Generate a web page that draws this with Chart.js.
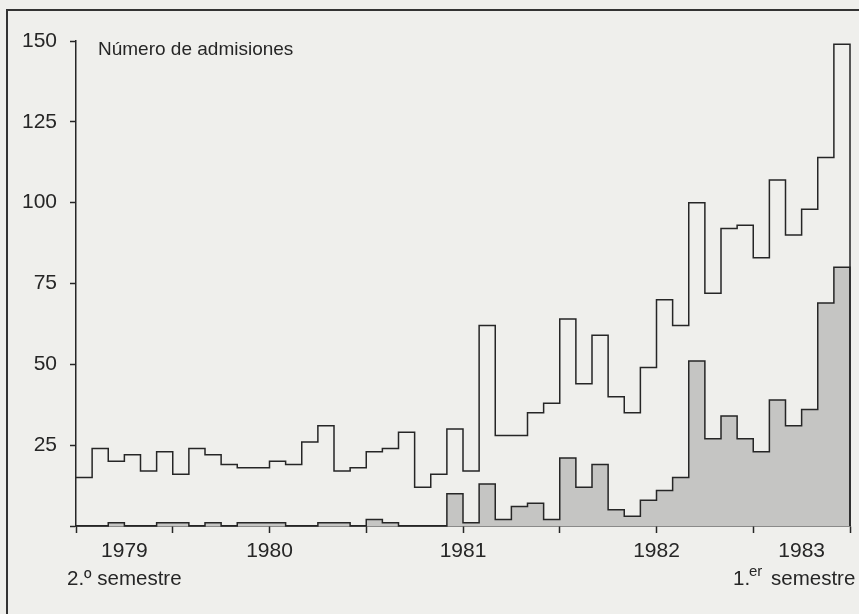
<!DOCTYPE html>
<html>
<head>
<meta charset="utf-8">
<script src="https://cdn.jsdelivr.net/npm/chart.js@4.4.1/dist/chart.umd.min.js"></script>
<style>
  body { margin: 0; background: #efefec; }
  #wrap { width: 859px; height: 614px; position: relative; }
</style>
</head>
<body>
<div id="wrap"><canvas id="admisiones"></canvas></div>
<script>
// one value per month, July 1979 .. June 1983
const totalAdmisiones = [15, 24, 20, 22, 17, 23, 16, 24, 22, 19,
    18, 18, 20, 19, 26, 31, 17, 18, 23, 24,
    29, 12, 16, 30, 17, 62, 28, 28, 35, 38,
    64, 44, 59, 40, 35, 49, 70, 62, 100, 72,
    92, 93, 83, 107, 90, 98, 114, 149];
const admisionesSombra = [0, 0, 1, 0, 0, 1, 1, 0, 1, 0,
    1, 1, 1, 0, 0, 1, 1, 0, 2, 1,
    0, 0, 0, 10, 1, 13, 2, 6, 7, 2,
    21, 12, 19, 5, 3, 8, 11, 15, 51, 27,
    34, 27, 23, 39, 31, 36, 69, 80];
// tick positions in months from July 1979, year labels at the middle of each year
const xTickMonths = [0, 3, 6, 12, 18, 24, 30, 36, 42, 45, 48];
const yearLabels = { 3: '1979', 12: '1980', 24: '1981', 36: '1982', 45: '1983' };
const yTickValues = [0, 25, 50, 75, 100, 125, 150];

const ink = '#262626';
const font = 'Liberation Sans';

function stepPoints(values) {
    const pts = values.map((v, i) => ({ x: i, y: v }));
    pts.push({ x: values.length, y: 0 });
    return pts;
}

const extraText = {
    id: 'extraText',
    afterDraw(chart) {
        const ctx = chart.ctx;
        ctx.save();
        // frame
        ctx.strokeStyle = '#333';
        ctx.lineWidth = 2;
        ctx.beginPath();
        ctx.moveTo(7, 614);
        ctx.lineTo(7, 10);
        ctx.lineTo(859, 10);
        ctx.stroke();

        ctx.fillStyle = ink;
        ctx.textBaseline = 'alphabetic';
        ctx.textAlign = 'left';
        ctx.font = '19px "' + font + '"';
        ctx.fillText('Número de admisiones', 98, 55);

        ctx.font = '20.5px "' + font + '"';
        ctx.fillText('2.º semestre', 67, 585);

        ctx.fillText('1.', 733, 585);
        ctx.font = '15px "' + font + '"';
        ctx.fillText('er', 749, 576);
        ctx.font = '20.5px "' + font + '"';
        ctx.fillText('semestre', 771, 585);
        ctx.restore();
    }
};

new Chart(document.getElementById('admisiones'), {
    type: 'line',
    data: {
        datasets: [
            {
                label: 'total',
                data: stepPoints(totalAdmisiones),
                stepped: true,
                borderColor: ink,
                borderWidth: 1.5,
                pointRadius: 0,
                fill: false,
                clip: 3,
            },
            {
                label: 'sombra',
                data: stepPoints(admisionesSombra),
                stepped: true,
                borderColor: ink,
                borderWidth: 1.5,
                backgroundColor: '#c5c5c3',
                pointRadius: 0,
                fill: 'origin',
                clip: 3,
            },
        ],
    },
    options: {
        responsive: true,
        maintainAspectRatio: false,
        animation: false,
        layout: { padding: { left: 0, top: 41, right: 9, bottom: 0 } },
        plugins: { legend: { display: false }, tooltip: { enabled: false } },
        scales: {
            x: {
                type: 'linear',
                min: 0,
                max: 48,
                afterBuildTicks: (scale) => { scale.ticks = xTickMonths.map(v => ({ value: v })); },
                afterFit: (scale) => { scale.height = 88; },
                border: { display: true, color: ink, width: 1.5 },
                grid: {
                    drawOnChartArea: false,
                    drawTicks: true,
                    tickLength: 7,
                    tickWidth: 1.5,
                    tickColor: (c) => (c.tick && (c.tick.value === 3 || c.tick.value === 45)) ? 'rgba(0,0,0,0)' : ink,
                },
                ticks: {
                    autoSkip: false,
                    maxRotation: 0,
                    padding: 6,
                    color: ink,
                    font: { family: font, size: 21 },
                    callback: (v) => yearLabels[v] || '',
                },
            },
            y: {
                min: 0,
                max: 150,
                afterBuildTicks: (scale) => { scale.ticks = yTickValues.map(v => ({ value: v })); },
                afterFit: (scale) => { scale.width = 76; },
                border: { display: true, color: ink, width: 1.5 },
                grid: {
                    drawOnChartArea: false,
                    drawTicks: true,
                    tickLength: 6,
                    tickWidth: 1.5,
                    tickColor: ink,
                },
                ticks: {
                    padding: 13,
                    color: ink,
                    font: { family: font, size: 21 },
                    callback: (v) => v === 0 ? '' : v,
                },
            },
        },
    },
    plugins: [extraText],
});
</script>
</body>
</html>
